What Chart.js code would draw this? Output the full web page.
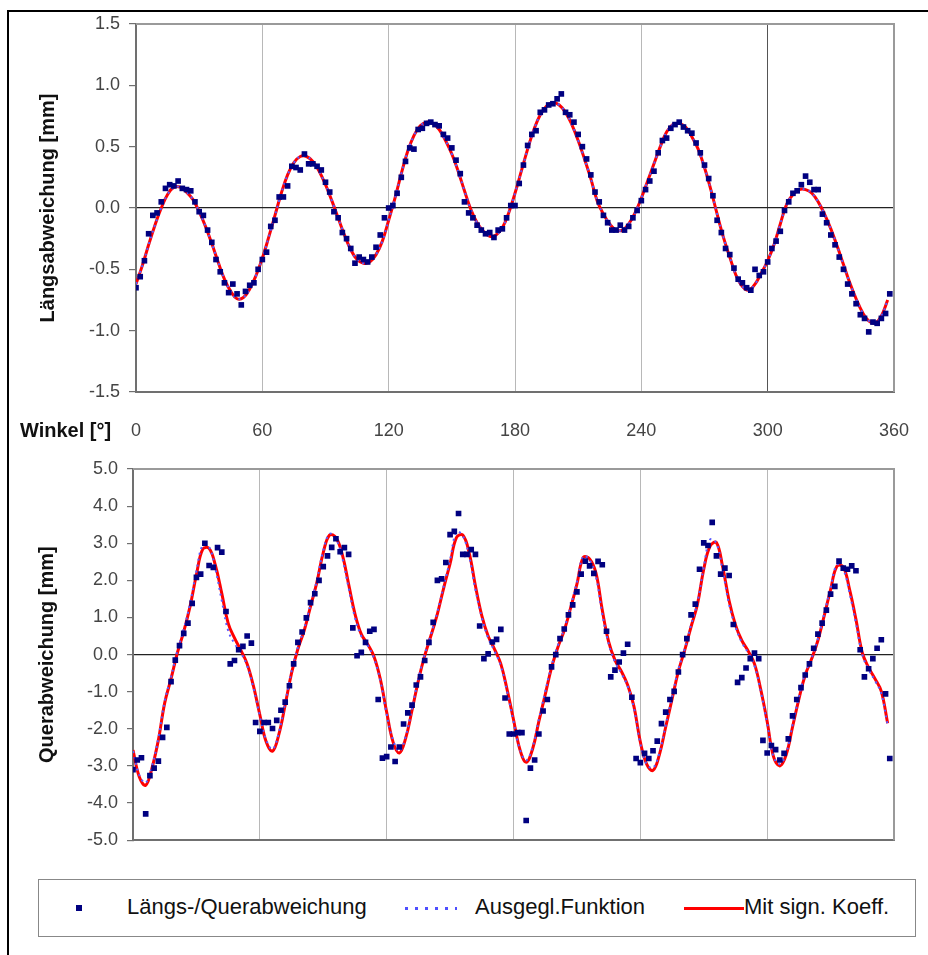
<!DOCTYPE html>
<html lang="de">
  <head>
    <meta charset="UTF-8" />
    <title>Längs- und Querabweichung</title>
    <script src="https://cdn.jsdelivr.net/npm/chart.js"></script>
    <style>
      body { margin: 0; background: #fff; font-family: "Liberation Sans", Arial, sans-serif; }
      #page { position: relative; width: 928px; height: 955px; overflow: hidden; }
      #frame { position: absolute; left: 7px; top: 10px; width: 925px; height: 950px; border-top: 2px solid #000; border-left: 2px solid #000; }
      canvas { position: absolute; left: 0; }
      #winkel { position: absolute; left: 20px; top: 419px; font-weight: bold; font-size: 20px; color: #111; }
      #legend { position: absolute; left: 38px; top: 879px; width: 876px; height: 56px; border: 1px solid #888; background: #fff; }
      .lg { position: absolute; top: 14px; font-size: 22px; color: #111; white-space: nowrap; }
    </style>
  </head>
  <body>
    <div id="page">
      <div id="frame"></div>
      <canvas id="topChart" width="928" height="450" style="top:0"></canvas>
      <canvas id="bottomChart" width="928" height="415" style="top:445px"></canvas>
      <div id="winkel">Winkel [°]</div>
      <div id="legend">
        <div style="position:absolute;left:37px;top:25px;width:6px;height:6px;background:#000080"></div>
        <div class="lg" style="left:88px">Längs-/Querabweichung</div>
        <div style="position:absolute;left:366px;top:27px;width:52px;height:3px;background:repeating-linear-gradient(to right,#4f4fff 0 3px,transparent 3px 10px)"></div>
        <div class="lg" style="left:436px">Ausgegl.Funktion</div>
        <div style="position:absolute;left:645px;top:27px;width:60px;height:3px;background:#ff0000"></div>
        <div class="lg" style="left:705px">Mit sign. Koeff.</div>
      </div>
    </div>

    <script>
      // measured points, every 2 degrees
      const pointAngles = [
        0, 2, 4, 6, 8, 10, 12, 14, 16, 18, 20, 22, 24, 26, 28, 30, 32, 34, 36, 38,
        40, 42, 44, 46, 48, 50, 52, 54, 56, 58, 60, 62, 64, 66, 68, 70, 72, 74, 76, 78,
        80, 82, 84, 86, 88, 90, 92, 94, 96, 98, 100, 102, 104, 106, 108, 110, 112, 114, 116, 118,
        120, 122, 124, 126, 128, 130, 132, 134, 136, 138, 140, 142, 144, 146, 148, 150, 152, 154, 156, 158,
        160, 162, 164, 166, 168, 170, 172, 174, 176, 178, 180, 182, 184, 186, 188, 190, 192, 194, 196, 198,
        200, 202, 204, 206, 208, 210, 212, 214, 216, 218, 220, 222, 224, 226, 228, 230, 232, 234, 236, 238,
        240, 242, 244, 246, 248, 250, 252, 254, 256, 258, 260, 262, 264, 266, 268, 270, 272, 274, 276, 278,
        280, 282, 284, 286, 288, 290, 292, 294, 296, 298, 300, 302, 304, 306, 308, 310, 312, 314, 316, 318,
        320, 322, 324, 326, 328, 330, 332, 334, 336, 338, 340, 342, 344, 346, 348, 350, 352, 354, 356, 358,
      ];

      const laengsPoints = [
        -0.65, -0.56, -0.43, -0.21, -0.06, -0.04, 0.05, 0.16, 0.19, 0.18, 0.22, 0.16, 0.15, 0.14, 0.05, -0.03, -0.06, -0.18, -0.28, -0.42,
        -0.52, -0.61, -0.69, -0.62, -0.7, -0.79, -0.68, -0.63, -0.61, -0.5, -0.42, -0.36, -0.15, -0.1, 0.09, 0.09, 0.18, 0.34, 0.33, 0.31,
        0.44, 0.36, 0.36, 0.34, 0.31, 0.21, 0.13, -0.03, -0.08, -0.2, -0.25, -0.33, -0.45, -0.4, -0.42, -0.44, -0.4, -0.32, -0.22, -0.08,
        0.0, 0.02, 0.12, 0.25, 0.38, 0.49, 0.48, 0.64, 0.65, 0.69, 0.7, 0.68, 0.67, 0.6, 0.57, 0.49, 0.39, 0.28, 0.05, -0.04,
        -0.08, -0.14, -0.18, -0.21, -0.2, -0.24, -0.18, -0.17, -0.08, 0.02, 0.02, 0.2, 0.35, 0.51, 0.6, 0.63, 0.78, 0.8, 0.84, 0.85,
        0.89, 0.93, 0.78, 0.76, 0.7, 0.6, 0.5, 0.4, 0.27, 0.13, 0.05, -0.06, -0.12, -0.18, -0.18, -0.14, -0.18, -0.15, -0.08, -0.02,
        0.06, 0.15, 0.22, 0.3, 0.45, 0.55, 0.57, 0.65, 0.68, 0.7, 0.66, 0.63, 0.61, 0.53, 0.45, 0.35, 0.24, 0.1, -0.1, -0.2,
        -0.33, -0.38, -0.49, -0.58, -0.61, -0.65, -0.67, -0.5, -0.55, -0.52, -0.44, -0.33, -0.27, -0.19, -0.02, 0.05, 0.12, 0.14, 0.19, 0.26,
        0.21, 0.15, 0.15, -0.05, -0.12, -0.22, -0.3, -0.4, -0.5, -0.62, -0.7, -0.78, -0.87, -0.9, -1.01, -0.93, -0.94, -0.9, -0.86, -0.7,
      ];

      const querPoints = [
        -3.1, -2.84, -2.78, -4.29, -3.26, -3.06, -2.87, -2.23, -1.96, -0.73, -0.15, 0.24, 0.57, 0.85, 1.38, 2.08, 2.17, 3.0, 2.4, 2.35,
        2.88, 2.76, 1.16, -0.25, -0.16, 0.13, 0.22, 0.5, 0.31, -1.83, -2.07, -1.83, -1.83, -1.99, -1.77, -1.5, -1.28, -0.84, -0.25, 0.33,
        0.61, 0.99, 1.4, 1.64, 2.0, 2.37, 2.66, 2.89, 3.12, 2.77, 2.88, 2.7, 0.72, -0.03, 0.06, 0.33, 0.63, 0.68, -1.21, -2.79,
        -2.75, -2.49, -2.88, -2.49, -1.87, -1.57, -1.36, -0.82, -0.6, -0.16, 0.33, 0.87, 2.0, 2.04, 2.48, 3.23, 3.32, 3.8, 2.7, 2.7,
        2.83, 2.7, 0.77, -0.11, 0.02, 0.34, 0.41, 0.68, -1.17, -2.14, -2.14, -2.1, -2.1, -4.47, -3.06, -2.84, -2.14, -1.52, -1.21, -0.33,
        0.0, 0.43, 0.69, 1.07, 1.34, 1.69, 2.17, 2.52, 2.39, 2.19, 2.51, 2.42, 0.63, -0.6, -0.42, -0.2, 0.04, 0.28, -1.15, -2.8,
        -2.91, -2.66, -2.8, -2.59, -2.33, -1.86, -1.55, -1.21, -0.99, -0.47, 0.0, 0.43, 1.07, 1.36, 2.3, 3.01, 2.94, 3.56, 2.66, 2.17,
        2.33, 2.13, 0.81, -0.75, -0.62, -0.36, -0.11, 0.04, -0.11, -2.31, -2.65, -2.45, -2.56, -2.84, -2.66, -2.27, -1.65, -1.21, -0.89, -0.55,
        -0.25, 0.17, 0.55, 0.85, 1.2, 1.63, 1.84, 2.52, 2.33, 2.3, 2.39, 2.26, 0.13, -0.6, -0.38, -0.11, 0.17, 0.4, -1.06, -2.8,
      ];

      // fitted functions, every 3 degrees
      const fitAngles = [
        0, 3, 6, 9, 12, 15, 18, 21, 24, 27, 30, 33, 36, 39, 42, 45, 48, 51, 54, 57,
        60, 63, 66, 69, 72, 75, 78, 81, 84, 87, 90, 93, 96, 99, 102, 105, 108, 111, 114, 117,
        120, 123, 126, 129, 132, 135, 138, 141, 144, 147, 150, 153, 156, 159, 162, 165, 168, 171, 174, 177,
        180, 183, 186, 189, 192, 195, 198, 201, 204, 207, 210, 213, 216, 219, 222, 225, 228, 231, 234, 237,
        240, 243, 246, 249, 252, 255, 258, 261, 264, 267, 270, 273, 276, 279, 282, 285, 288, 291, 294, 297,
        300, 303, 306, 309, 312, 315, 318, 321, 324, 327, 330, 333, 336, 339, 342, 345, 348, 351, 354, 357,
      ];

      const laengsFit = [
        -0.62, -0.47, -0.3, -0.14, 0.0, 0.11, 0.17, 0.17, 0.13, 0.07, -0.03, -0.15, -0.29, -0.44, -0.58, -0.68, -0.74, -0.73, -0.66, -0.55,
        -0.41, -0.24, -0.06, 0.12, 0.27, 0.37, 0.42, 0.42, 0.38, 0.3, 0.19, 0.06, -0.08, -0.22, -0.34, -0.42, -0.45, -0.44, -0.38, -0.27,
        -0.1, 0.08, 0.28, 0.46, 0.59, 0.67, 0.7, 0.69, 0.64, 0.55, 0.44, 0.3, 0.14, -0.01, -0.12, -0.19, -0.23, -0.22, -0.16, -0.04,
        0.12, 0.3, 0.48, 0.64, 0.76, 0.83, 0.86, 0.84, 0.78, 0.68, 0.55, 0.4, 0.24, 0.06, -0.05, -0.13, -0.18, -0.18, -0.13, -0.04,
        0.08, 0.22, 0.36, 0.5, 0.62, 0.68, 0.69, 0.66, 0.58, 0.48, 0.33, 0.15, -0.05, -0.24, -0.4, -0.55, -0.64, -0.67, -0.62, -0.53,
        -0.43, -0.3, -0.13, 0.03, 0.11, 0.15, 0.15, 0.12, 0.05, -0.05, -0.17, -0.31, -0.46, -0.61, -0.74, -0.85, -0.92, -0.94, -0.88, -0.75,
      ];

      const querFit = [
        -2.57, -3.3, -3.52, -3.05, -2.3, -1.3, -0.65, 0.05, 0.62, 1.3, 2.15, 2.84, 2.86, 2.4, 1.65, 0.85, 0.45, 0.12, -0.25, -0.85,
        -1.62, -2.35, -2.6, -2.15, -1.35, -0.5, 0.15, 0.65, 1.3, 1.95, 2.75, 3.22, 3.15, 2.7, 1.9, 1.1, 0.55, 0.28, -0.05, -0.66,
        -1.55, -2.35, -2.65, -2.25, -1.5, -0.7, -0.03, 0.52, 1.1, 1.8, 2.45, 3.15, 3.22, 2.75, 1.85, 1.05, 0.5, 0.15, -0.25, -0.95,
        -1.75, -2.55, -2.9, -2.55, -1.8, -1.08, -0.35, 0.2, 0.65, 1.25, 1.9, 2.62, 2.58, 2.2, 1.2, 0.35, -0.15, -0.45, -0.82, -1.4,
        -2.35, -2.95, -3.12, -2.7, -1.95, -1.2, -0.45, 0.12, 0.75, 1.35, 2.3, 2.92, 3.02, 2.35, 1.45, 0.8, 0.38, 0.1, -0.25, -0.95,
        -1.8, -2.75, -3.0, -2.7, -1.95, -1.2, -0.55, -0.12, 0.38, 1.05, 1.75, 2.38, 2.36, 1.75, 0.95, 0.05, -0.35, -0.65, -0.99, -1.85,
      ];

      const querSmooth = [
        -2.6, -3.25, -3.45, -3.0, -2.25, -1.25, -0.6, 0.1, 0.68, 1.38, 2.25, 2.95, 2.9, 2.3, 1.45, 0.65, 0.3, 0.05, -0.3, -0.9,
        -1.65, -2.3, -2.55, -2.1, -1.3, -0.45, 0.2, 0.7, 1.35, 2.0, 2.8, 3.25, 3.12, 2.6, 1.8, 1.0, 0.5, 0.25, -0.1, -0.7,
        -1.6, -2.3, -2.6, -2.2, -1.45, -0.65, 0.0, 0.55, 1.15, 1.85, 2.55, 3.3, 3.2, 2.65, 1.75, 1.0, 0.45, 0.1, -0.3, -1.0,
        -1.8, -2.55, -2.85, -2.5, -1.75, -1.0, -0.3, 0.25, 0.7, 1.3, 1.95, 2.65, 2.55, 2.1, 1.1, 0.3, -0.2, -0.5, -0.85, -1.45,
        -2.4, -2.95, -3.05, -2.65, -1.9, -1.15, -0.4, 0.15, 0.8, 1.4, 2.35, 3.1, 3.0, 2.25, 1.35, 0.75, 0.33, 0.05, -0.3, -1.0,
        -1.85, -2.75, -2.95, -2.65, -1.9, -1.15, -0.5, -0.1, 0.42, 1.1, 1.8, 2.42, 2.3, 1.65, 0.85, 0.0, -0.4, -0.7, -1.05, -1.9,
      ];

      const xTicks = [0, 60, 120, 180, 240, 300, 360];

      const xy = (xs, ys) => xs.map((x, i) => ({ x: x, y: ys[i] }));

      const font = '"Liberation Sans", Arial, sans-serif';
      const tickFont = { family: font, size: 18 };

      // grey frame on top and right side of the plot area
      const plotFrame = {
        id: "plotFrame",
        beforeDatasetsDraw(chart) {
          const { ctx, chartArea: a } = chart;
          ctx.save();
          ctx.strokeStyle = "#9a9a9a";
          ctx.lineWidth = 2;
          ctx.beginPath();
          ctx.moveTo(a.left, a.top);
          ctx.lineTo(a.right, a.top);
          ctx.lineTo(a.right, a.bottom);
          ctx.stroke();
          ctx.restore();
        },
      };

      const makeDatasets = (points, smooth, fit) => [
        {
          label: "Längs-/Querabweichung",
          data: xy(pointAngles, points),
          showLine: false,
          pointStyle: "rect",
          pointRadius: 4,
          pointBorderWidth: 0,
          pointBackgroundColor: "#000080",
          borderColor: "#000080",
        },
        {
          label: "Ausgegl.Funktion",
          data: xy(fitAngles, smooth),
          showLine: true,
          borderColor: "#5a5aff",
          borderWidth: 2,
          borderDash: [2, 4],
          pointRadius: 0,
          tension: 0.4,
        },
        {
          label: "Mit sign. Koeff.",
          data: xy(fitAngles, fit),
          showLine: true,
          borderColor: "#ff0000",
          borderWidth: 3,
          pointRadius: 0,
          tension: 0.4,
        },
      ];

      const makeOptions = (opt) => ({
        responsive: false,
        animation: false,
        layout: { padding: opt.padding },
        plugins: { legend: { display: false }, tooltip: { enabled: false } },
        scales: {
          x: {
            type: "linear",
            min: 0,
            max: 360,
            afterBuildTicks: (scale) => {
              scale.ticks = xTicks.map((v) => ({ value: v }));
            },
            afterFit: (scale) => {
              scale.height = opt.xHeight;
              scale.paddingLeft = 0;
              scale.paddingRight = 0;
            },
            grid: {
              drawTicks: false,
              color: (c) => (c.tick && c.tick.value === 300 ? opt.grid300 : "#b8b8b8"),
              lineWidth: 1,
            },
            border: { color: "#707070", width: 2 },
            ticks: {
              display: opt.xLabels,
              padding: 28,
              color: "#444",
              font: tickFont,
              maxRotation: 0,
            },
          },
          y: {
            min: opt.yMin,
            max: opt.yMax,
            afterBuildTicks: (scale) => {
              scale.ticks = opt.yTicks.map((v) => ({ value: v }));
            },
            afterFit: (scale) => {
              scale.width = opt.yWidth;
            },
            grid: {
              color: (c) => (c.tick && c.tick.value === 0 ? "#222" : "rgba(0,0,0,0)"),
              tickColor: "#707070",
              tickLength: opt.tickLength,
              lineWidth: 1.2,
            },
            border: { color: "#707070", width: 2 },
            ticks: {
              padding: 9,
              color: "#444",
              font: tickFont,
              callback: (v) => Number(v).toFixed(1),
            },
            title: {
              display: true,
              text: opt.title,
              color: "#111",
              padding: { top: 0, bottom: 0 },
              font: { family: font, size: 20, weight: "bold" },
            },
          },
        },
      });

      new Chart(document.getElementById("topChart"), {
        type: "scatter",
        data: { datasets: makeDatasets(laengsPoints, laengsFit, laengsFit) },
        options: makeOptions({
          padding: { left: 36, right: 34, top: 24, bottom: 0 },
          xHeight: 58,
          xLabels: true,
          grid300: "#555",
          yMin: -1.5,
          yMax: 1.5,
          yTicks: [-1.5, -1.0, -0.5, 0, 0.5, 1.0, 1.5],
          yWidth: 100,
          tickLength: 7,
          title: "Längsabweichung [mm]",
        }),
        plugins: [plotFrame],
      });

      new Chart(document.getElementById("bottomChart"), {
        type: "scatter",
        data: { datasets: makeDatasets(querPoints, querSmooth, querFit) },
        options: makeOptions({
          padding: { left: 35, right: 34, top: 24, bottom: 12 },
          xHeight: 0,
          xLabels: false,
          grid300: "#b8b8b8",
          yMin: -5,
          yMax: 5,
          yTicks: [-5, -4, -3, -2, -1, 0, 1, 2, 3, 4, 5],
          yWidth: 98,
          tickLength: 6,
          title: "Querabweichung [mm]",
        }),
        plugins: [plotFrame],
      });
    </script>
  </body>
</html>
